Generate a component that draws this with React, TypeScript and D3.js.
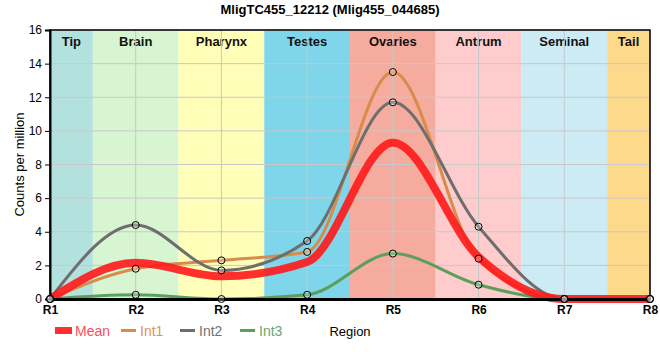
import { useEffect, useRef } from "react"
import * as d3 from "d3"

const regions = ["R1", "R2", "R3", "R4", "R5", "R6", "R7", "R8"]
const tissues = ["Tip", "Brain", "Pharynx", "Testes", "Ovaries", "Antrum", "Seminal", "Tail"]
const tissueColors = ["#b3e2de", "#d6f5d0", "#fefeb9", "#7fd5ea", "#f5ab9e", "#fecccc", "#cdebf5", "#fdd98b"]

const meanValues = [0, 2.15, 1.35, 2.2, 9.3, 2.5, 0, 0]
const int1Values = [0, 1.8, 2.3, 2.8, 13.5, 2.4, 0, 0]
const int2Values = [0, 4.4, 1.7, 3.45, 11.7, 4.3, 0, 0]
const int3Values = [0, 0.25, 0, 0.25, 2.7, 0.85, 0, 0]
const yTicks = [0, 2, 4, 6, 8, 10, 12, 14, 16]

interface Series {
  name: string
  values: number[]
  color: string
  legendColor: string
  width: number
  dots: boolean
}

const series: Series[] = [
  { name: "Int1", values: int1Values, color: "#d98b4a", legendColor: "#e0915e", width: 3, dots: true },
  { name: "Int2", values: int2Values, color: "#6e6e6e", legendColor: "#727272", width: 3, dots: true },
  { name: "Int3", values: int3Values, color: "#5c9f5c", legendColor: "#62a86e", width: 3, dots: true },
  { name: "Mean", values: meanValues, color: "#ff1a1a", legendColor: "#ff4d5a", width: 8, dots: false },
]

export default function App() {
  const svgRef = useRef<SVGSVGElement>(null)

  useEffect(() => {
    if (!svgRef.current) return
    const svg = d3.select(svgRef.current)
    svg.selectAll("*").remove()

    const margin = { top: 30, left: 50 }
    const innerWidth = 600
    const innerHeight = 269
    const font = "'Liberation Sans', Arial, sans-serif"

    const x = d3.scalePoint().domain(regions).range([0, innerWidth])
    const y = d3.scaleLinear().domain([0, 16]).range([innerHeight, 0])
    const step = x.step()

    svg.append("text")
      .attr("x", 330)
      .attr("y", 14)
      .attr("text-anchor", "middle")
      .style("font", `bold 13px ${font}`)
      .text("MligTC455_12212 (Mlig455_044685)")

    const g = svg.append("g").attr("transform", `translate(${margin.left},${margin.top})`)

    // tissue bands, one per region, clipped to the plot
    tissues.forEach((t, i) => {
      const cx = x(regions[i]) || 0
      const x0 = Math.max(0, cx - step / 2)
      const x1 = Math.min(innerWidth, cx + step / 2)
      g.append("rect")
        .attr("x", x0)
        .attr("y", 0)
        .attr("width", x1 - x0)
        .attr("height", innerHeight)
        .attr("fill", tissueColors[i])
      g.append("text")
        .attr("x", (x0 + x1) / 2)
        .attr("y", 16)
        .attr("text-anchor", "middle")
        .style("font", `bold 13px ${font}`)
        .attr("fill", "#111")
        .text(t)
    })

    // grid
    yTicks.forEach((v) => {
      g.append("line")
        .attr("x1", 0).attr("x2", innerWidth)
        .attr("y1", y(v)).attr("y2", y(v))
        .attr("stroke", "#c8c8c8").attr("stroke-width", 1)
    })
    regions.forEach((r) => {
      g.append("line")
        .attr("x1", x(r) || 0).attr("x2", x(r) || 0)
        .attr("y1", 0).attr("y2", innerHeight)
        .attr("stroke", "#c8c8c8").attr("stroke-width", 1)
    })

    g.append("rect")
      .attr("width", innerWidth).attr("height", innerHeight)
      .attr("fill", "none").attr("stroke", "#000").attr("stroke-width", 1.5)

    const line = d3
      .line<number>()
      .x((_, i) => x(regions[i]) || 0)
      .y((d) => y(d))
      .curve(d3.curveMonotoneX)

    series.forEach((s) => {
      g.append("path")
        .datum(s.values)
        .attr("fill", "none")
        .attr("stroke", s.color)
        .attr("stroke-width", s.width)
        .attr("stroke-opacity", s.name === "Mean" ? 0.9 : 1)
        .attr("d", line)
    })

    // axes
    const yAxis = g.append("g").call(d3.axisLeft(y).tickValues(yTicks).tickSize(5))
    yAxis.select(".domain").attr("stroke", "#000").attr("stroke-width", 2)
    yAxis.selectAll("text").style("font", `12px ${font}`).attr("fill", "#000")

    const xAxis = g.append("g")
      .attr("transform", `translate(0,${innerHeight})`)
      .call(d3.axisBottom(x).tickSize(0).tickPadding(6))
    xAxis.select(".domain").attr("stroke", "#000").attr("stroke-width", 3)
    xAxis.selectAll("text").style("font", `bold 12px ${font}`).attr("fill", "#000")

    // dots on the replicate lines
    series.filter((s) => s.dots).forEach((s) => {
      g.selectAll(null)
        .data(s.values)
        .enter()
        .append("circle")
        .attr("cx", (_, i) => x(regions[i]) || 0)
        .attr("cy", (d) => y(d))
        .attr("r", 3.5)
        .attr("fill", "#fff")
        .attr("fill-opacity", 0.25)
        .attr("stroke", "#000")
        .attr("stroke-width", 1)
    })

    svg.append("text")
      .attr("transform", `translate(24,${margin.top + innerHeight / 2}) rotate(-90)`)
      .attr("text-anchor", "middle")
      .style("font", `13px ${font}`)
      .text("Counts per million")

    // legend
    const legendOrder = ["Mean", "Int1", "Int2", "Int3"]
    const legendX = [55, 121, 180, 240]
    legendOrder.forEach((name, i) => {
      const s = series.find((d) => d.name === name)!
      const lx = legendX[i]
      if (name === "Mean") {
        svg.append("rect").attr("x", lx).attr("y", 327).attr("width", 17).attr("height", 7).attr("fill", s.color).attr("opacity", 0.9)
      } else {
        svg.append("line").attr("x1", lx).attr("x2", lx + 15).attr("y1", 330.5).attr("y2", 330.5).attr("stroke", s.color).attr("stroke-width", 3)
      }
      svg.append("text")
        .attr("x", name === "Mean" ? lx + 20 : lx + 19)
        .attr("y", 336)
        .style("font", `14px ${font}`)
        .attr("fill", s.legendColor)
        .text(name)
    })

    svg.append("text")
      .attr("x", 350)
      .attr("y", 336)
      .attr("text-anchor", "middle")
      .style("font", `13px ${font}`)
      .text("Region")
  }, [])

  return (
    <svg ref={svgRef} width={660} height={360} style={{ position: "absolute", left: 0, top: 0 }} />
  )
}
